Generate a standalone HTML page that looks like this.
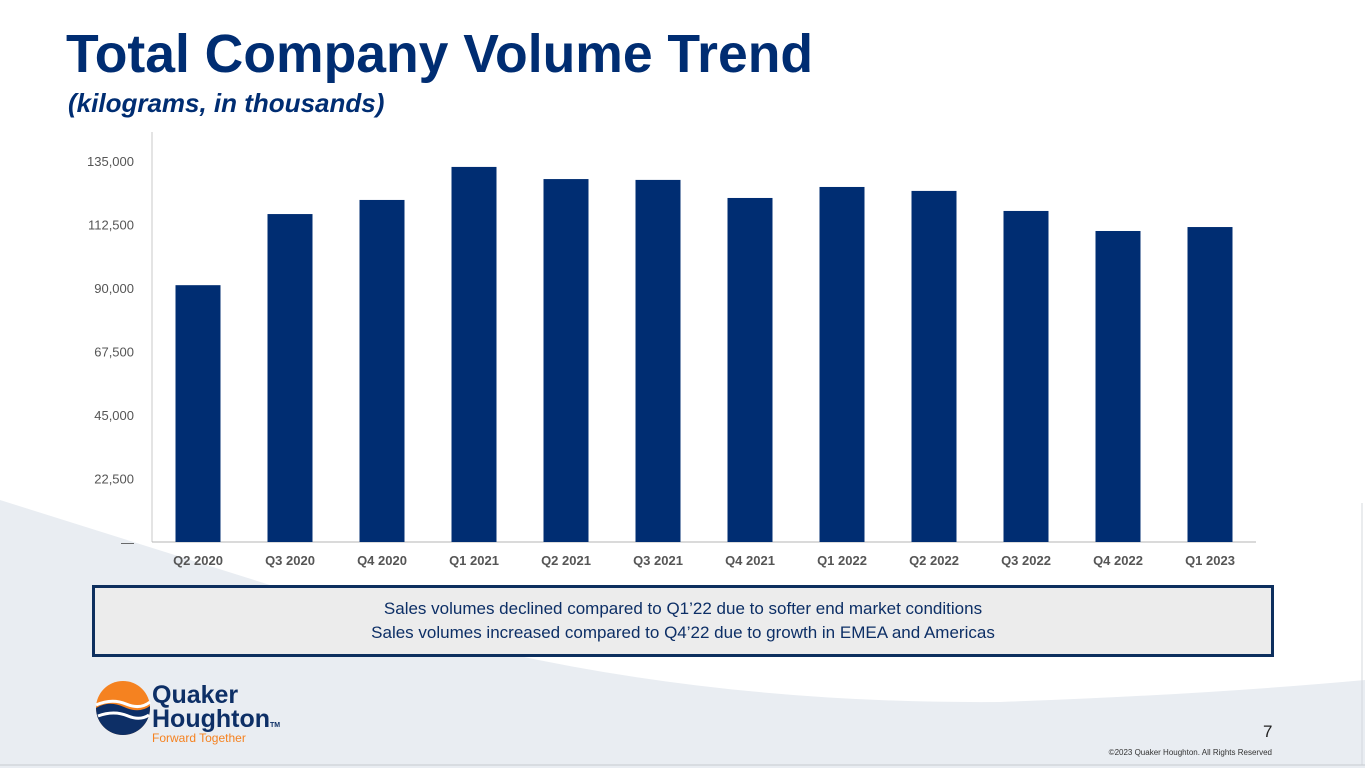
<!DOCTYPE html>
<html><head><meta charset="utf-8"><style>
body{margin:0;width:1365px;height:768px;overflow:hidden;background:#fff;font-family:"Liberation Sans",Arial,sans-serif;position:relative}
.abs{position:absolute}
</style></head><body>
<svg class="abs" style="left:0;top:0" width="1365" height="768">
<path d="M0,500 L270,585 Q600,705 1000,702 Q1200,695 1365,680 L1365,768 L0,768 Z" fill="#e9edf2"/>
<line x1="1362" y1="503" x2="1362" y2="765" stroke="#d4d8dd"/>
<line x1="0" y1="765" x2="1365" y2="765" stroke="#c8cbd0"/>
</svg>
<div class="abs" style="left:66px;top:24px;font-size:53.5px;font-weight:bold;color:#002d72">Total Company Volume Trend</div>
<div class="abs" style="left:68px;top:88px;font-size:26px;font-weight:bold;font-style:italic;color:#002d72">(kilograms, in thousands)</div>
<svg id="chart" class="abs" style="left:0;top:0" width="1365" height="580"></svg>
<div class="abs" style="left:92px;top:585px;width:1176px;height:57px;background:#ececec;border:3px solid #0d2f5e;color:#0d2f66;font-size:17px;text-align:center;line-height:24px;padding-top:9px">Sales volumes declined compared to Q1’22 due to softer end market conditions<br>Sales volumes increased compared to Q4’22 due to growth in EMEA and Americas</div>
<svg class="abs" style="left:94px;top:680px" width="70" height="60">
<circle cx="29" cy="28" r="27" fill="#f58220"/>
<path d="M2,28 Q15,20 30,27 Q45,34 56,26 L56,28 A27,27 0 0 1 2,28 Z" fill="#0d2f66"/>
<path d="M2,25 Q18,18 32,24 Q46,30 56,22" stroke="#fff" stroke-width="3" fill="none"/>
<path d="M4,36 Q20,30 34,36 Q46,41 55,35" stroke="#fff" stroke-width="3" fill="none"/>
</svg>
<div class="abs" style="left:152px;top:683px;font-size:25px;font-weight:bold;color:#0d2f66;line-height:24px">Quaker<br>Houghton<span style="font-size:7px">TM</span></div>
<div class="abs" style="left:152px;top:731px;font-size:12px;color:#f58220">Forward Together</div>
<div class="abs" style="left:1263px;top:722px;font-size:17px;color:#222">7</div>
<div class="abs" style="right:93px;top:748px;font-size:8px;color:#333">©2023 Quaker Houghton. All Rights Reserved</div>
<script>
const categories=["Q2 2020","Q3 2020","Q4 2020","Q1 2021","Q2 2021","Q3 2021","Q4 2021","Q1 2022","Q2 2022","Q3 2022","Q4 2022","Q1 2023"];
const volumes=[91000,116200,121200,132900,128600,128300,121900,125800,124400,117300,110200,111600];
const yTicks=[0,22500,45000,67500,90000,112500,135000];
const yTickLabels=["—","22,500","45,000","67,500","90,000","112,500","135,000"];
const svg=document.getElementById('chart');
const NS='http://www.w3.org/2000/svg';
const x0=152,x1=1256,yBase=542,yTop=161,yMax=135000;
const band=(x1-x0)/categories.length;
function y(v){return yBase-(v/yMax)*(yBase-yTop);}
function xc(i){return x0+band*(i+0.5);}
function mk(t,a){const e=document.createElementNS(NS,t);for(const k in a)e.setAttribute(k,a[k]);svg.appendChild(e);return e;}
const ax=mk('line',{x1:x0,y1:132,x2:x0,y2:yBase,stroke:'#c9c9c9'});


const bx=mk('line',{x1:x0,y1:yBase,x2:x1,y2:yBase,stroke:'#b5b5b5'});


yTicks.forEach((v,i)=>{
 const t=mk('text',{x:134,y:y(v)+5,'text-anchor':'end','font-size':13,fill:'#555','font-family':'Liberation Sans, sans-serif'});
 t.textContent=yTickLabels[i];
 
 
});
categories.forEach((c,i)=>{
 const w=45;
 const r=mk('rect',{x:xc(i)-w/2,y:y(volumes[i]),width:w,height:yBase-y(volumes[i]),fill:'#002d72'});
 
 
 const t=mk('text',{x:xc(i),y:565,'text-anchor':'middle','font-size':13,'font-weight':'bold',fill:'#555','font-family':'Liberation Sans, sans-serif'});
 t.textContent=c;
 
 
});
</script>
</body></html>
